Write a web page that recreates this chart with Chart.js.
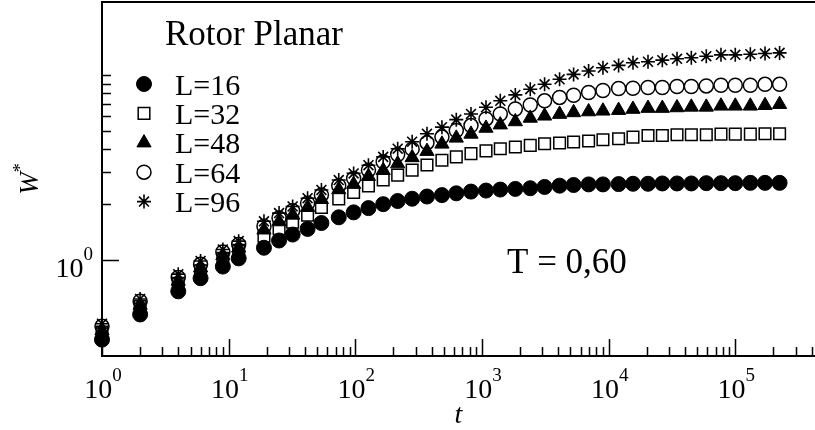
<!DOCTYPE html>
<html>
<head>
<meta charset="utf-8">
<script src="https://cdn.jsdelivr.net/npm/chart.js@4.4.1/dist/chart.umd.min.js"></script>
<style>
  body { margin: 0; background: #fff; }
  #wrap { width: 815px; height: 430px; }
</style>
</head>
<body>
<div id="wrap"><canvas id="myChart" width="815" height="430"></canvas></div>
<script>
// time steps (x axis, log)
const tValues = [1, 2, 4, 6, 9, 12, 19, 25, 32, 42, 54, 74, 97, 127, 166, 216, 281, 368,
  483, 627, 819, 1076, 1395, 1834, 2406, 3122, 4100, 5290, 6950, 9020,
  11990, 15570, 20460, 26550, 34670, 44970, 59040, 77100, 100000, 131500, 171700, 223800];

// W* for each lattice size
const w16 = [0.368, 0.504, 0.673, 0.793, 0.917, 1.016, 1.16, 1.27, 1.368, 1.468, 1.58, 1.697,
  1.805, 1.904, 2.0, 2.08, 2.14, 2.20, 2.24, 2.29, 2.34, 2.37, 2.40, 2.42,
  2.44, 2.48, 2.52, 2.54, 2.56, 2.56, 2.57, 2.58, 2.58, 2.59, 2.59, 2.59,
  2.60, 2.60, 2.60, 2.61, 2.61, 2.61];
const w32 = [0.405, 0.557, 0.743, 0.87, 1.016, 1.122, 1.341, 1.473, 1.595, 1.74, 1.92, 2.136,
  2.312, 2.509, 2.703, 2.875, 3.058, 3.262, 3.461, 3.61, 3.762, 3.89, 4.0, 4.087,
  4.169, 4.256, 4.294, 4.346, 4.40, 4.47, 4.53, 4.62, 4.72, 4.72, 4.76, 4.76,
  4.76, 4.80, 4.80, 4.80, 4.82, 4.82];
const w48 = [0.412, 0.566, 0.765, 0.903, 1.051, 1.157, 1.45, 1.607, 1.746, 1.921, 2.122, 2.40,
  2.564, 2.83, 3.049, 3.313, 3.58, 3.872, 4.24, 4.57, 4.80, 5.17, 5.39, 5.61,
  5.86, 6.02, 6.15, 6.28, 6.35, 6.41, 6.46, 6.55, 6.63, 6.63, 6.68, 6.73,
  6.73, 6.82, 6.82, 6.82, 6.87, 6.96];
const w64 = [0.4345, 0.5944, 0.800, 0.943, 1.10, 1.209, 1.518, 1.682, 1.841, 2.025, 2.244, 2.52,
  2.76, 3.058, 3.394, 3.715, 3.977, 4.31, 4.624, 5.018, 5.34, 5.80, 6.17, 6.565,
  6.90, 7.275, 7.59, 7.80, 8.07, 8.275, 8.48, 8.51, 8.59, 8.59, 8.70, 8.70,
  8.76, 8.84, 8.84, 8.84, 8.94, 8.94];
const w96 = [0.449, 0.612, 0.834, 0.984, 1.136, 1.26, 1.615, 1.789, 1.944, 2.154, 2.388, 2.703,
  2.937, 3.253, 3.61, 4.0, 4.363, 4.817, 5.234, 5.75, 6.17, 6.71, 7.275, 7.83,
  8.41, 8.94, 9.52, 10.12, 10.55, 11.0, 11.32, 11.7, 11.85, 12.09, 12.3, 12.45,
  12.70, 12.92, 12.92, 13.02, 13.13, 13.24];

const seriesLabels = ["L=16", "L=32", "L=48", "L=64", "L=96"];
const xMajorTicks = [1, 10, 100, 1000, 10000, 100000];
const xTickExponents = ["0", "1", "2", "3", "4", "5"];
const yMajorTicks = [1];
const yTickExponents = ["0"];
const yMinorTicks = [2, 3, 4, 5, 6, 7, 8, 9, 10];
const legendTitle = "Rotor Planar";
const noteText = "T = 0,60";

const serif = '"Liberation Serif", "Times New Roman", Times, serif';

function toPoints(ys) {
  return tValues.map(function (t, i) { return { x: t, y: ys[i] }; });
}

// "10" with a raised exponent
function drawPow(ctx, exp, x, baseY, align) {
  ctx.font = '28px ' + serif;
  const wb = ctx.measureText('10').width;
  ctx.font = '19px ' + serif;
  const we = ctx.measureText(exp).width;
  const total = wb + we;
  let left = x - total / 2;
  if (align === 'right') left = x - total;
  ctx.textAlign = 'left';
  ctx.textBaseline = 'alphabetic';
  ctx.font = '28px ' + serif;
  ctx.fillText('10', left, baseY);
  ctx.font = '19px ' + serif;
  ctx.fillText(exp, left + wb, baseY - 17);
}

const framePlugin = {
  id: 'frame',
  afterDraw(chart) {
    const ctx = chart.ctx;
    const xs = chart.scales.x;
    const ys = chart.scales.y;
    const left = xs.left, right = xs.right, top = ys.top, bottom = ys.bottom;
    ctx.save();
    ctx.strokeStyle = '#000';
    ctx.fillStyle = '#000';

    // frame (left, top, bottom)
    ctx.lineWidth = 2;
    ctx.beginPath();
    ctx.moveTo(right + 2, top);
    ctx.lineTo(left, top);
    ctx.lineTo(left, bottom);
    ctx.lineTo(right + 2, bottom);
    ctx.stroke();

    // x ticks
    ctx.lineWidth = 1.5;
    ctx.beginPath();
    xMajorTicks.forEach(function (v) {
      const px = Math.round(xs.getPixelForValue(v)) + 0.5;
      ctx.moveTo(px, bottom);
      ctx.lineTo(px, bottom - 17);
      for (let m = 2; m <= 9; m++) {
        const mv = v * m;
        if (mv > xs.max) continue;
        const mx = Math.round(xs.getPixelForValue(mv)) + 0.5;
        ctx.moveTo(mx, bottom);
        ctx.lineTo(mx, bottom - 9);
      }
    });
    // y ticks
    yMajorTicks.forEach(function (v) {
      const py = Math.round(ys.getPixelForValue(v)) + 0.5;
      ctx.moveTo(left, py);
      ctx.lineTo(left + 17, py);
    });
    yMinorTicks.forEach(function (v) {
      const py = Math.round(ys.getPixelForValue(v)) + 0.5;
      ctx.moveTo(left, py);
      ctx.lineTo(left + 9, py);
    });
    ctx.stroke();

    // tick labels
    xMajorTicks.forEach(function (v, i) {
      drawPow(ctx, xTickExponents[i], xs.getPixelForValue(v) + 1, 398, 'center');
    });
    yMajorTicks.forEach(function (v, i) {
      drawPow(ctx, yTickExponents[i], left - 9, ys.getPixelForValue(v) + 17, 'right');
    });

    // axis titles
    ctx.font = 'italic 28px ' + serif;
    ctx.textAlign = 'center';
    ctx.fillText('t', (left + right) / 2, 423);

    ctx.save();
    const midY = (top + bottom) / 2;
    ctx.font = 'italic 27px ' + serif;
    const wW = ctx.measureText('W').width;
    ctx.font = '18px ' + serif;
    const wS = ctx.measureText('*').width;
    ctx.translate(38, midY + (wW + wS) / 2);
    ctx.rotate(-Math.PI / 2);
    ctx.textAlign = 'left';
    ctx.font = 'italic 27px ' + serif;
    ctx.fillText('W', 0, 0);
    ctx.font = '18px ' + serif;
    ctx.fillText('*', wW, -12);
    ctx.restore();

    // legend
    ctx.textAlign = 'left';
    ctx.font = '35px ' + serif;
    ctx.fillText(legendTitle, 165, 45);
    ctx.font = '30px ' + serif;
    chart.data.datasets.forEach(function (ds, i) {
      const cy = 84 + i * 29.4;
      ctx.fillStyle = ds.pointBackgroundColor;
      ctx.strokeStyle = ds.pointBorderColor;
      ctx.lineWidth = ds.pointBorderWidth;
      if (Chart.helpers && Chart.helpers.drawPoint) {
        Chart.helpers.drawPoint(ctx, {
          pointStyle: ds.pointStyle, radius: ds.pointRadius,
          rotation: 0, borderWidth: ds.pointBorderWidth
        }, 144, cy);
      }
      ctx.fillStyle = '#000';
      ctx.fillText(seriesLabels[i], 175, cy + 10.5);
    });

    // annotation
    ctx.font = '35px ' + serif;
    ctx.fillText(noteText, 507, 273);
    ctx.restore();
  }
};

function makeSet(label, ys, style, radius, fill, bw, order) {
  return {
    label: label,
    data: toPoints(ys),
    showLine: false,
    pointStyle: style,
    pointRadius: radius,
    pointHoverRadius: radius,
    pointBackgroundColor: fill,
    pointBorderColor: '#000',
    pointBorderWidth: bw,
    clip: false,
    order: order
  };
}

const myChart = new Chart(document.getElementById('myChart'), {
  type: 'scatter',
  data: {
    datasets: [
      makeSet(seriesLabels[0], w16, 'circle', 7.5, '#000', 1, 5),
      makeSet(seriesLabels[1], w32, 'rect', 8.2, 'rgba(0,0,0,0)', 1.5, 4),
      makeSet(seriesLabels[2], w48, 'triangle', 8.2, '#000', 1, 3),
      makeSet(seriesLabels[3], w64, 'circle', 7, 'rgba(0,0,0,0)', 1.5, 2),
      makeSet(seriesLabels[4], w96, 'star', 7, '#000', 1.6, 1)
    ]
  },
  options: {
    responsive: false,
    animation: false,
    events: [],
    layout: { autoPadding: false, padding: { left: 102, top: 2, right: 0, bottom: 74 } },
    plugins: {
      legend: { display: false },
      tooltip: { enabled: false }
    },
    scales: {
      x: {
        type: 'logarithmic',
        display: false,
        min: 1,
        max: 426000
      },
      y: {
        type: 'logarithmic',
        display: false,
        min: 0.3125,
        max: 25
      }
    }
  },
  plugins: [framePlugin]
});
</script>
</body>
</html>
